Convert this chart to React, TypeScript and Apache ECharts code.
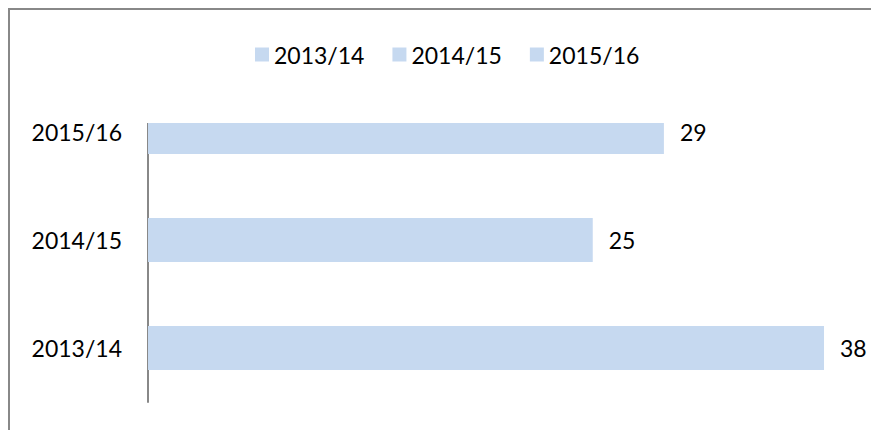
import React, { useEffect, useRef } from "react";
import * as echarts from "echarts";

const categories = ["2013/14", "2014/15", "2015/16"];
const seriesNames = ["2013/14", "2014/15", "2015/16"];
const values = [38, 25, 29];

const BAR_COLOR = "#C6D9F0";
const FONT = "Lato, 'Open Sans', sans-serif";

export default function App() {
  const ref = useRef<HTMLDivElement>(null);
  useEffect(() => {
    if (!ref.current) return;
    const chart = echarts.init(ref.current, undefined, { renderer: "svg" });
    const series = seriesNames.map((name, i) => ({
      name,
      type: "bar",
      stack: "all",
      barWidth: 44,
      itemStyle: { color: BAR_COLOR },
      label: {
        show: true,
        position: "right",
        distance: 16,
        color: "#000",
        fontSize: 23,
        fontFamily: FONT,
      },
      data: categories.map((_, j) => (j === i ? values[i] : "-")),
    }));
    chart.setOption({
      animation: false,
      textStyle: { fontFamily: FONT },
      legend: {
        left: 242,
        top: 30,
        icon: "rect",
        itemWidth: 14,
        itemHeight: 14,
        itemGap: 28,
        textStyle: { color: "#000", fontSize: 23, fontFamily: FONT },
        data: seriesNames.map((n) => ({ name: n, itemStyle: { color: BAR_COLOR } })),
      },
      grid: { left: 140, top: 70, width: 711.6, height: 324 },
      xAxis: { type: "value", min: 0, max: 40, show: false },
      yAxis: {
        type: "category",
        data: categories,
        axisTick: { show: false },
        axisLine: { lineStyle: { color: "#888", width: 2 } },
        axisLabel: { margin: 26, color: "#000", fontSize: 23, fontFamily: FONT },
      },
      graphic: [
        {
          type: "rect",
          z: 100,
          shape: { x: 130, y: 62, width: 725, height: 53 },
          style: { fill: "#fff" },
        },
        {
          type: "line",
          z: 101,
          shape: { x1: 1, y1: 1, x2: 863, y2: 1 },
          style: { stroke: "#888", lineWidth: 2 },
        },
        {
          type: "line",
          z: 101,
          shape: { x1: 1, y1: 0, x2: 1, y2: 422 },
          style: { stroke: "#888", lineWidth: 2 },
        },
      ],
      series,
    });
    return () => chart.dispose();
  }, []);
  return (
    <div
      ref={ref}
      style={{ position: "fixed", left: 8, top: 8, width: 863, height: 422, background: "#fff" }}
    />
  );
}
